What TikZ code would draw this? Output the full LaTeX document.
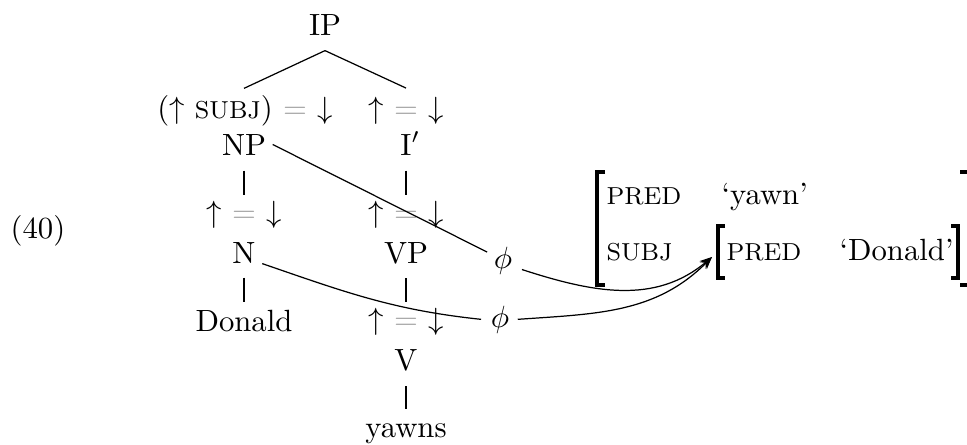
\documentclass[tikz,border=0pt]{standalone}
\usetikzlibrary{calc,arrows.meta}
\newcommand{\eqg}{\textcolor{gray!70}{=}}
\newcommand{\mysc}[1]{{\footnotesize #1}}
\tikzset{
  lbl/.style={inner sep=0pt, anchor=base},
  lblw/.style={inner sep=0pt, anchor=base west},
  tl/.style={line width=0.4pt},
  fs/.style={line width=0.4pt},
  brk/.style={line width=1pt, line join=miter},
  tipp/.style={-{Stealth[length=4pt,width=3.2pt]}}
}
\begin{document}
\begin{tikzpicture}[x=0.3257pt,y=-0.3257pt]
\useasboundingbox (0,0) rectangle (967,444);
% tree
\node[lbl] (IP) at (325,36) {IP};
\node[lbl] (a1) at (245,118) {($\uparrow$ \mysc{SUBJ}) \eqg{} $\downarrow$};
\node[lbl] (a2) at (406,118) {$\uparrow$ \eqg{} $\downarrow$};
\node[lbl] (NP) at (244,155) {NP};
\node[lbl] (Ib) at (406,155) {I\rlap{$'$}};
\node[lbl] (a3) at (244,222) {$\uparrow$ \eqg{} $\downarrow$};
\node[lbl] (a4) at (406,222) {$\uparrow$ \eqg{} $\downarrow$};
\node[lbl] (N) at (244,263) {N};
\node[lbl] (VP) at (406,263) {VP};
\node[lbl] (Don) at (244,331) {Donald};
\node[lbl] (a5) at (406,329) {$\uparrow$ \eqg{} $\downarrow$};
\node[lbl] (V) at (406,370) {V};
\node[lbl] (yw) at (406,437) {yawns};
\node[lbl] (p1) at (503,268) {$\phi$};
\node[lbl] (p2) at (500,327) {$\phi$};
\node[lblw] (ex) at (10,238) {(40)};
% tree lines
\draw[tl] ($(IP.south)+(0,14)$) -- ($(a1.north)+(-1,-6)$);
\draw[tl] ($(IP.south)+(0,14)$) -- ($(a2.north)+(0,-8)$);
\draw[tl] ($(NP.south)+(0,15)$) -- ($(a3.north)+(0,-5)$);
\draw[tl] ($(Ib.south)+(0,15)$) -- ($(a4.north)+(0,-5)$);
\draw[tl] ($(N.south)+(0,14)$) -- ($(Don.north)+(0,-7)$);
\draw[tl] ($(VP.south)+(0,14)$) -- ($(a5.north)+(0,-5)$);
\draw[tl] ($(V.south)+(0,15)$) -- ($(yw.north)+(0,-14)$);
% f-structure
\coordinate (sf) at (712,257);
\draw[brk] (605,172) -- (597,172) -- (597,285) -- (605,285);
\draw[brk] (725,226) -- (718,226) -- (718,278) -- (725,278);
\draw[brk] (951,226) -- (958,226) -- (958,278) -- (951,278);
\draw[brk] (960,172) -- (969,172) -- (969,285) -- (960,285);
\node[lblw] (pr1) at (606,204) {\mysc{PRED}};
\node[lblw] (yn) at (721,204) {`yawn'};
\node[lblw] (sb) at (606,260) {\mysc{SUBJ}};
\node[lblw] (pr2) at (726,260) {\mysc{PRED}};
\node[lblw] (dn) at (839,260) {`Donald'};
% phi mappings
\draw[fs] ([xshift=2pt]NP.east) -- ([shift={(-2pt,2.7pt)}]p1.west);
\draw[fs,tipp] ([shift={(3pt,-3pt)}]p1.east) to[out=-18,in=220] (sf);
\draw[fs] ([xshift=2pt]N.south east) to[out=-19,in=174] ([xshift=-3pt]p2.west);
\draw[fs,tipp] ([xshift=2.6pt]p2.east) to[out=4,in=225] (sf);
\end{tikzpicture}
\end{document}
